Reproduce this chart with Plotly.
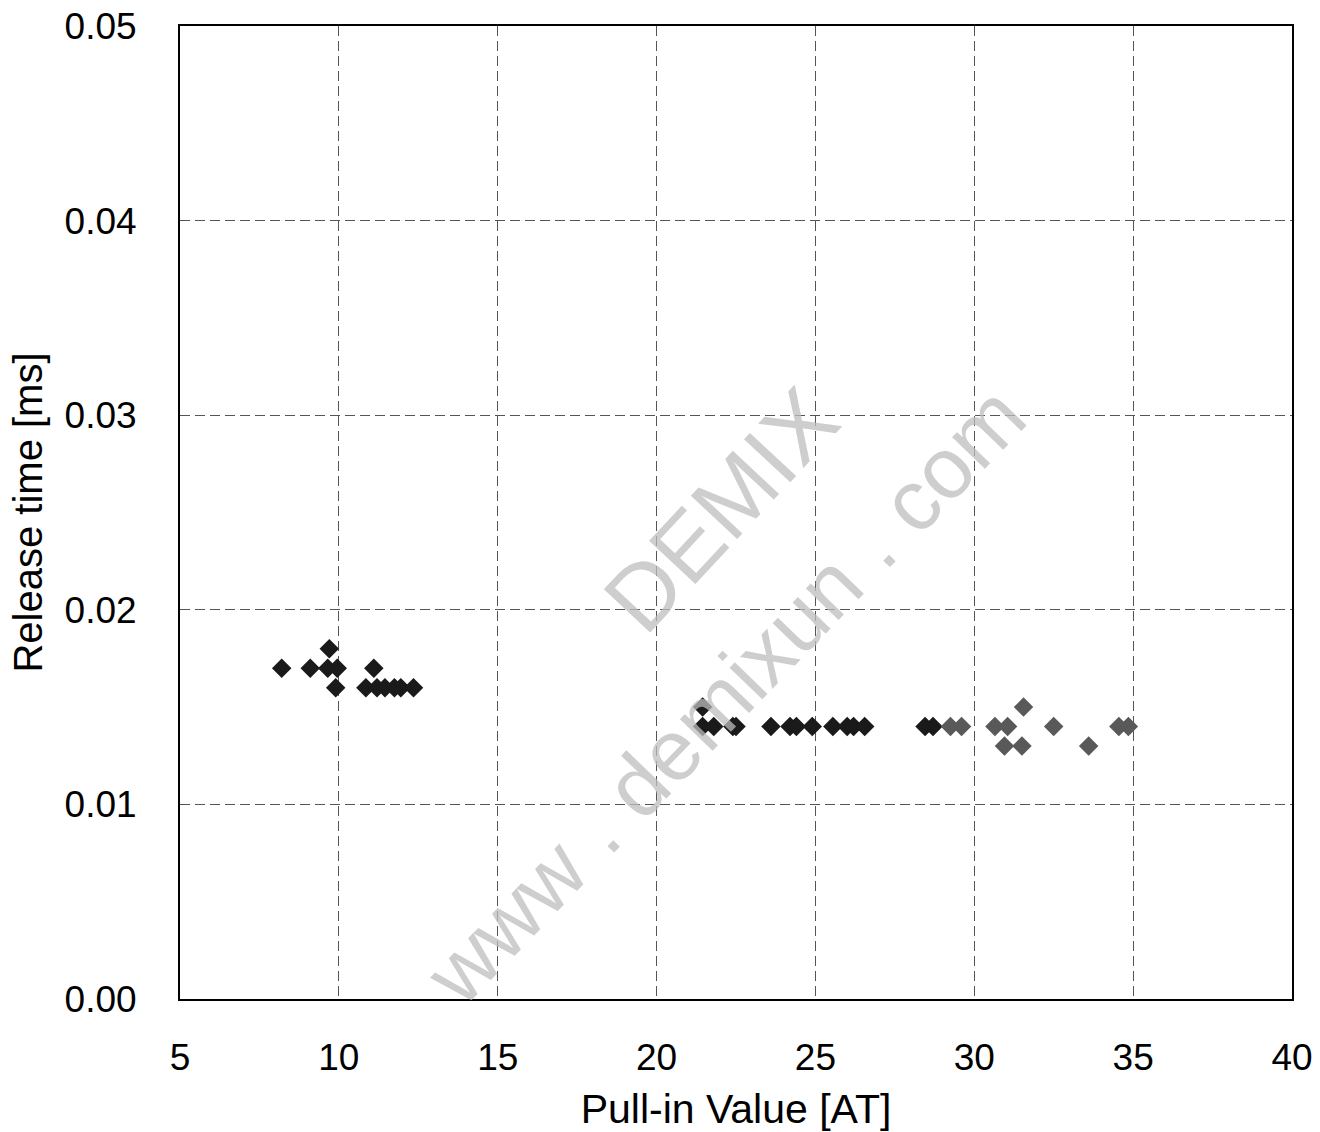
import plotly.graph_objects as go

# Series 1 (black)
black_x = [8.2, 9.1, 9.7, 9.65, 9.95, 9.9, 11.1, 10.85, 11.2, 11.45, 11.75, 11.95, 12.35,
           21.45, 21.45, 21.8, 22.4, 22.5, 23.6, 24.2, 24.4, 24.9, 25.55, 26.0, 26.2, 26.55,
           28.45, 28.7]
black_y = [0.017, 0.017, 0.018, 0.017, 0.017, 0.016, 0.017, 0.016, 0.016, 0.016, 0.016, 0.016, 0.016,
           0.015, 0.014, 0.014, 0.014, 0.014, 0.014, 0.014, 0.014, 0.014, 0.014, 0.014, 0.014, 0.014,
           0.014, 0.014]

# Series 2 (gray)
gray_x = [29.25, 29.6, 30.65, 31.05, 31.55, 30.95, 31.5, 32.5, 33.6, 34.55, 34.85]
gray_y = [0.014, 0.014, 0.014, 0.014, 0.015, 0.013, 0.013, 0.014, 0.013, 0.014, 0.014]

x_ticks = [5, 10, 15, 20, 25, 30, 35, 40]
y_ticks = [0.00, 0.01, 0.02, 0.03, 0.04, 0.05]

FONT = "Liberation Sans, Arial, sans-serif"

fig = go.Figure()
fig.add_trace(go.Scatter(x=black_x, y=black_y, mode="markers",
                         marker=dict(symbol="diamond", size=15, color="#1a1a1a"),
                         showlegend=False))
fig.add_trace(go.Scatter(x=gray_x, y=gray_y, mode="markers",
                         marker=dict(symbol="diamond", size=15, color="#595959"),
                         showlegend=False))

axis_common = dict(showline=True, linecolor="black", linewidth=2, mirror=True,
                   showgrid=True, gridcolor="#555555", griddash="10px,5px", gridwidth=1,
                   zeroline=False, ticks="", automargin=False,
                   tickfont=dict(size=37, color="black", family=FONT))

fig.update_xaxes(range=[5, 40], tickvals=x_ticks, ticktext=[str(v) for v in x_ticks],
                 title=dict(text="Pull-in Value [AT]", font=dict(size=41, color="black", family=FONT), standoff=24),
                 ticklabelstandoff=25, **axis_common)
fig.update_yaxes(range=[0, 0.05], tickvals=y_ticks, ticktext=[f"{v:.2f}" for v in y_ticks],
                 title=dict(text="Release time [ms]", font=dict(size=40, color="black", family=FONT), standoff=10),
                 ticklabelstandoff=34, **axis_common)

# watermark
fig.add_annotation(text="DEMIX", x=0.486, y=0.503, xref="paper", yref="paper", showarrow=False,
                   xanchor="center", yanchor="middle",
                   textangle=-47, font=dict(size=92, color="rgba(190,190,190,0.75)", family=FONT))
fig.add_annotation(text="www . demixun . com", x=0.49, y=0.312, xref="paper", yref="paper", showarrow=False,
                   xanchor="center", yanchor="middle",
                   textangle=-46, font=dict(size=86, color="rgba(190,190,190,0.75)", family=FONT))

fig.update_layout(width=1320, height=1132, plot_bgcolor="white", paper_bgcolor="white",
                  margin=dict(l=180, r=28, t=26, b=133, autoexpand=False),
                  font=dict(family=FONT, color="black"))

fig.write_html("out.html", config={"displayModeBar": False},
               post_script="document.body.style.margin='0';")
